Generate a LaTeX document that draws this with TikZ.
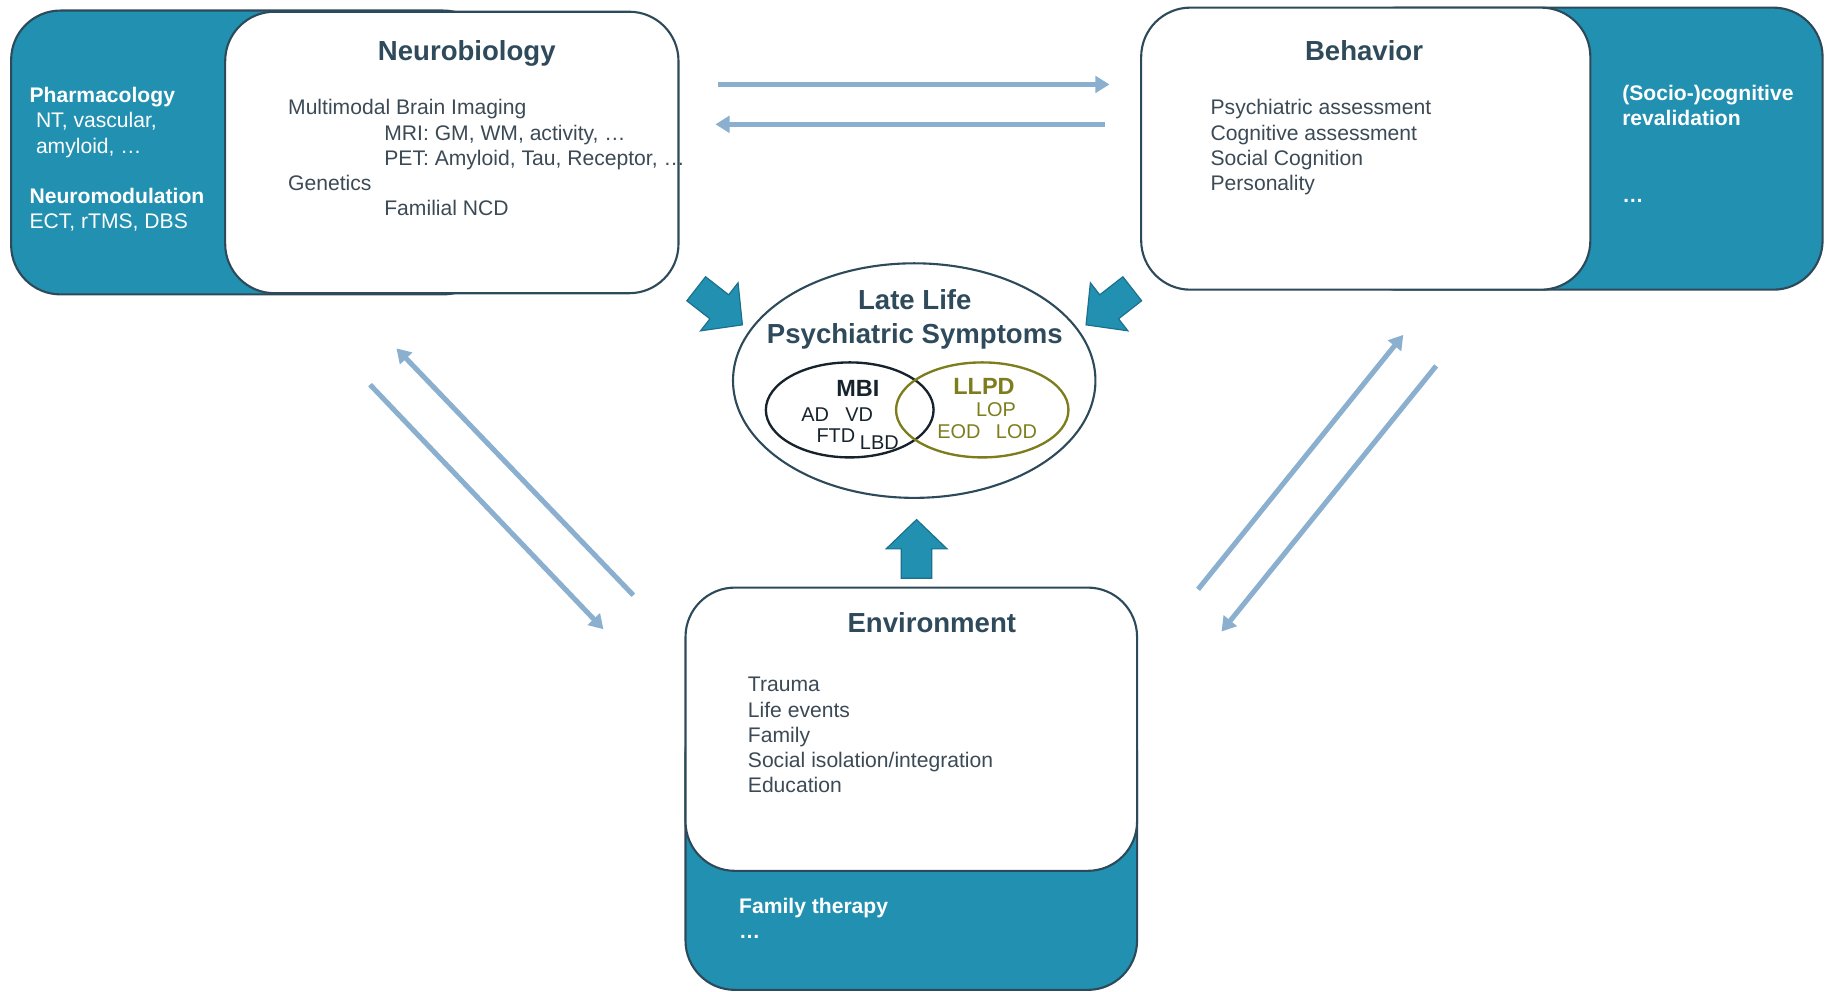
\documentclass[tikz,border=0pt]{standalone}
\usepackage{fontspec}
\setmainfont{Liberation Sans}
\usetikzlibrary{arrows.meta,shapes.geometric}
\definecolor{tealfill}{HTML}{2190B1}
\definecolor{tealedge}{HTML}{1E6F8C}
\definecolor{slate}{HTML}{2D4A5A}
\definecolor{titlecol}{HTML}{2F4A5B}
\definecolor{bodycol}{HTML}{3C4A55}
\definecolor{lightarr}{HTML}{8AAFCF}
\definecolor{olive}{HTML}{7D7D1E}
\definecolor{mbidark}{HTML}{16232C}
\tikzset{
  bluebox/.style={draw=slate, line width=1.8pt, fill=tealfill, rounded corners=42pt},
  whitebox/.style={draw=slate, line width=1.8pt, fill=white, rounded corners=42pt},
  titletxt/.style={inner sep=0pt, anchor=base, text=titlecol, font=\fontsize{23.5}{28}\selectfont\bfseries},
  bodytxt/.style={inner sep=0pt, anchor=base west, text=bodycol, font=\fontsize{18}{21.5}\selectfont},
  wbold/.style={inner sep=0pt, anchor=base west, text=white, font=\fontsize{18}{21.5}\selectfont\bfseries},
  wtxt/.style={inner sep=0pt, anchor=base west, text=white, font=\fontsize{18}{21.5}\selectfont},
  bigarr/.style={fill=tealfill, draw=tealedge, line width=1pt, line join=miter},
  thinarr/.style={draw=lightarr, line width=4.3pt, -{Triangle[length=12pt,width=14pt]}},
  smalltxt/.style={inner sep=0pt, anchor=base west, font=\fontsize{17}{20}\selectfont},
}
\newcommand{\blockarrow}[2]{%
  \begin{scope}[shift={#1}, rotate=#2]
    \draw[bigarr] (0,0) -- (-25,26) -- (-25,13) -- (-50,13) -- (-50,-13) -- (-25,-13) -- (-25,-26) -- cycle;
  \end{scope}}
\begin{document}
\begin{tikzpicture}[x=1pt,y=-1pt]
\useasboundingbox (0,0) rectangle (1568,845);

% ---------- Neurobiology ----------
\draw[bluebox] (9.5,9) rectangle (420,251);
\draw[whitebox] (192,10) rectangle (578.5,250);
\node[titletxt] (neurot) at (398,52) {Neurobiology};
\node[bodytxt] (n1) at (245.5,98) {Multimodal Brain Imaging};
\node[bodytxt] (n2) at (327.5,119.5) {MRI: GM, WM, activity, \dots};
\node[bodytxt] (n3) at (327.5,141) {PET: Amyloid, Tau, Receptor, \dots};
\node[bodytxt] (n4) at (245.5,162.5) {Genetics};
\node[bodytxt] (n5) at (327.5,184) {Familial NCD};
\node[wbold] (p1) at (25,87) {Pharmacology};
\node[wtxt] (p2) at (30.5,109) {NT, vascular,};
\node[wtxt] (p3) at (30.5,130.5) {amyloid, \dots};
\node[wbold] (p4) at (25,173.5) {Neuromodulation};
\node[wtxt] (p5) at (25,195) {ECT, rTMS, DBS};

% ---------- Behavior ----------
\draw[bluebox] (1150,6.5) rectangle (1554,247);
\draw[whitebox] (973,6.5) rectangle (1356,247);
\node[titletxt] (behavt) at (1163,51.5) {Behavior};
\node[bodytxt] (b1) at (1032,98) {Psychiatric assessment};
\node[bodytxt] (b2) at (1032,119.5) {Cognitive assessment};
\node[bodytxt] (b3) at (1032,141) {Social Cognition};
\node[bodytxt] (b4) at (1032,162.5) {Personality};
\node[wbold] (s1) at (1383,85.5) {(Socio-)cognitive};
\node[wbold] (s2) at (1383,107) {revalidation};
\node[wbold] (s3) at (1383,173) {\dots};

% ---------- Environment ----------
\draw[bluebox] (584.5,600) rectangle (969.5,844);
\draw[whitebox] (584.5,501) rectangle (969.5,742.5);
\node[titletxt] (envt) at (794.5,539.5) {Environment};
\node[bodytxt] (e1) at (637.5,590) {Trauma};
\node[bodytxt] (e2) at (637.5,611.5) {Life events};
\node[bodytxt] (e3) at (637.5,633) {Family};
\node[bodytxt] (e4) at (637.5,654.5) {Social isolation/integration};
\node[bodytxt] (e5) at (637.5,676) {Education};
\node[wbold] (f1) at (630,778.5) {Family therapy};
\node[wbold] (f2) at (630,800) {\dots};

% ---------- Center ----------
\node[ellipse, draw=slate, line width=1.8pt, minimum width=309pt, minimum height=200pt, inner sep=0pt] (llps) at (779.5,324.5) {};
\node[titletxt] (ct1) at (780,264) {Late Life};
\node[titletxt] (ct2) at (780,292.5) {Psychiatric Symptoms};
\node[ellipse, draw=mbidark, line width=2pt, minimum width=143pt, minimum height=81pt, inner sep=0pt] (mbi) at (724.5,349.5) {};
\node[ellipse, draw=olive, line width=2pt, minimum width=147pt, minimum height=81pt, inner sep=0pt] (llpd) at (837.5,349.5) {};
\node[inner sep=0pt, anchor=base, text=mbidark, font=\fontsize{20}{24}\selectfont\bfseries] (mbit) at (731.5,338) {MBI};
\node[smalltxt, text=mbidark] (ad) at (683,359) {AD};
\node[smalltxt, text=mbidark] (vd) at (720.5,359) {VD};
\node[smalltxt, text=mbidark] (ftd) at (696,377.5) {FTD};
\node[smalltxt, text=mbidark] (lbd) at (733,383) {LBD};
\node[inner sep=0pt, anchor=base, text=olive, font=\fontsize{20}{24}\selectfont\bfseries] (llpdt) at (839,336) {LLPD};
\node[smalltxt, text=olive] (lop) at (832,355.5) {LOP};
\node[smalltxt, text=olive] (eod) at (799,373.5) {EOD};
\node[smalltxt, text=olive] (lod) at (849,373.5) {LOD};

% ---------- Block arrows ----------
\blockarrow{(633,277)}{-38}
\blockarrow{(926,277)}{218}
\blockarrow{(781.5,443)}{90}

% ---------- Thin arrows ----------
\coordinate (t1s) at (612,72);
\coordinate (t1e) at (946,72);
\coordinate (t2s) at (942,106);
\coordinate (t2e) at (610,106);
\coordinate (l1s) at (315.5,328);
\coordinate (l1e) at (514.5,536.5);
\coordinate (l2s) at (540,507.5);
\coordinate (l2e) at (338,297);
\coordinate (r1s) at (1021.5,502.5);
\coordinate (r1e) at (1196.5,285.5);
\coordinate (r2s) at (1224.5,312);
\coordinate (r2e) at (1041.5,538.5);
\draw[thinarr] (t1s) -- (t1e);
\draw[thinarr] (t2s) -- (t2e);
\draw[thinarr] (l1s) -- (l1e);
\draw[thinarr] (l2s) -- (l2e);
\draw[thinarr] (r1s) -- (r1e);
\draw[thinarr] (r2s) -- (r2e);
\end{tikzpicture}
\end{document}
